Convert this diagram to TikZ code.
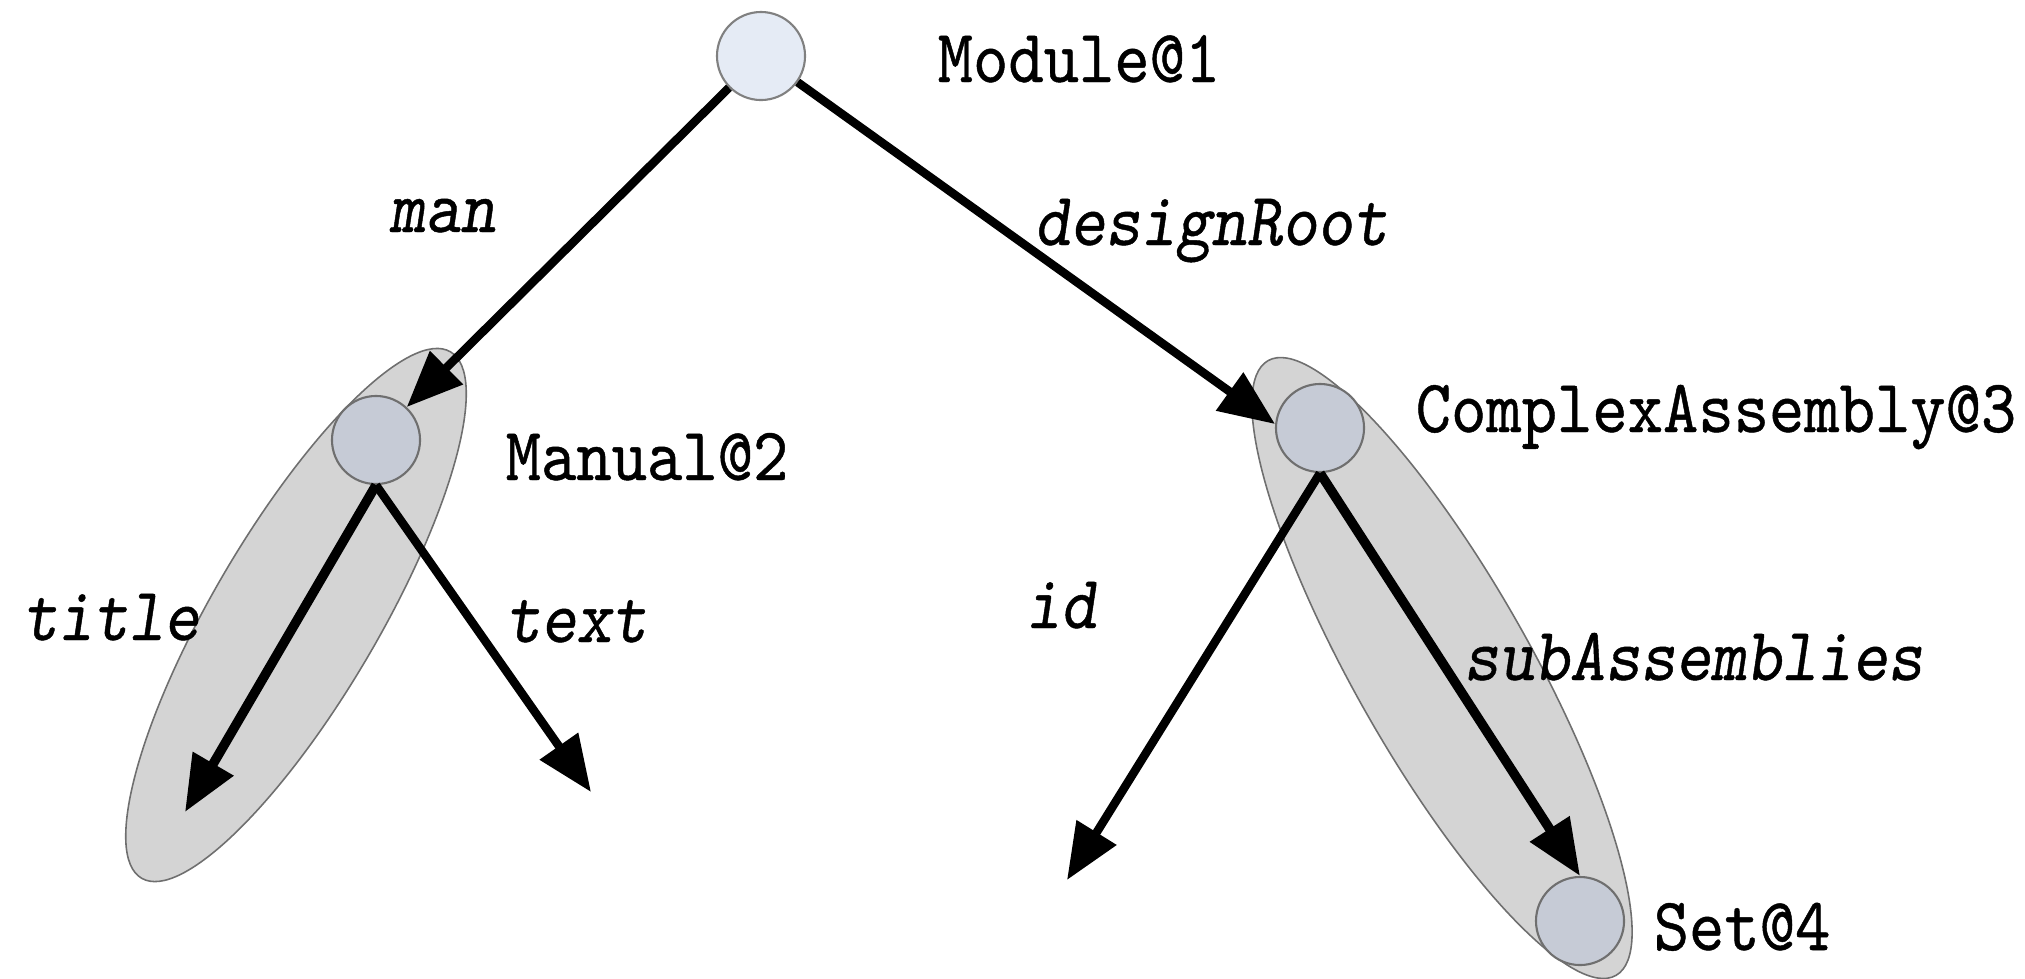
\documentclass[tikz,border=0pt]{standalone}
\usepackage{fontspec}
\usetikzlibrary{arrows.meta}
\newfontfamily\labfont{lmmono10-regular.otf}[FakeStretch=0.89, FakeBold=0.6, ItalicFont=lmmonoslant10-regular.otf]
\definecolor{rootfill}{HTML}{E5EBF5}
\definecolor{nodefill}{HTML}{C6CBD6}
\definecolor{groupfill}{HTML}{D4D4D4}
\definecolor{rimgray}{HTML}{6F6F6F}
\tikzset{
  obj/.style={circle, draw=rimgray, line width=0.6pt, fill=nodefill,
    minimum size=0.88cm, inner sep=0pt},
  rootobj/.style={obj, fill=rootfill, draw=gray},
  group/.style={draw=rimgray, line width=0.45pt, fill=groupfill},
  link/.style={line width=0.085cm, -{Triangle[length=0.56cm, width=0.45cm]}},
  boldlink/.style={link, line width=0.095cm},
  lbl/.style={anchor=base west, inner sep=0pt,
    font=\labfont\fontsize{21.5}{24}\selectfont},
  elbl/.style={anchor=base west, inner sep=0pt,
    font=\labfont\itshape\fontsize{21.5}{24}\selectfont},
}
\begin{document}
\begin{tikzpicture}[x=0.01cm, y=-0.01cm]
\useasboundingbox (0,0) rectangle (2025,978);

% grouping ellipses
\draw[group, rotate around={59.6:(296,615)}] (296,615) ellipse [x radius=3.05cm, y radius=0.83cm];
\draw[group, rotate around={-60.5:(1442,668)}] (1442,668) ellipse [x radius=3.53cm, y radius=0.88cm];

% objects
\node[rootobj] (mod) at (761,56) {};
\node[obj] (man) at (376,440) {};
\node[obj] (ca) at (1320,428) {};
\node[obj] (set) at (1580,921) {};

% free ends of the dangling edges
\coordinate (titleEnd) at (185,812);
\coordinate (textEnd) at (591,792);
\coordinate (idEnd) at (1067,880);

% edges
\draw[link] (mod) -- (man.47);
\draw[link] (mod) -- (ca.175);
\draw[boldlink] (man.south) -- (titleEnd);
\draw[link] (man.south) -- (textEnd);
\draw[link] (ca.south) -- (idEnd);
\draw[boldlink] (ca.south) -- (set.north);

% object names
\node[lbl] (tmod) at (937,82) {Module@1};
\node[lbl] (tman) at (505,480) {Manual@2};
\node[lbl] (tca) at (1415,432) {ComplexAssembly@3};
\node[lbl] (tset) at (1653,950) {Set@4};

% edge labels
\node[elbl] (lman) at (389,232) {man};
\node[elbl] (ldesign) at (1034,245) {designRoot};
\node[elbl] (ltitle) at (22,640) {title};
\node[elbl] (ltext) at (505,642) {text};
\node[elbl] (lid) at (1025,628) {id};
\node[elbl] (lsub) at (1463,680) {subAssemblies};
\end{tikzpicture}
\end{document}
